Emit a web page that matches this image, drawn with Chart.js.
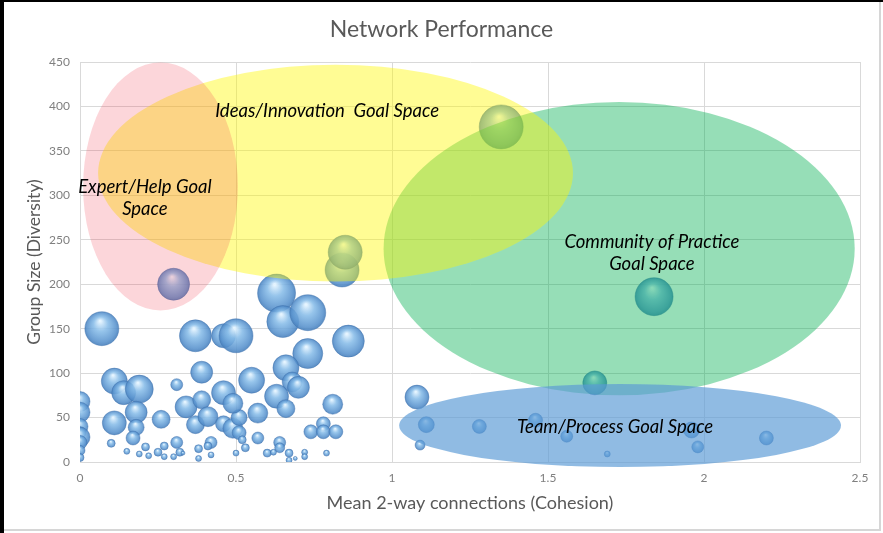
<!DOCTYPE html>
<html>
<head>
<meta charset="utf-8">
<script src="https://cdn.jsdelivr.net/npm/chart.js@4.4.1/dist/chart.umd.min.js"></script>
<style>
html,body{margin:0;padding:0;background:#fff;}
#wrap{position:relative;width:883px;height:533px;overflow:hidden;background:#fff;}
#c{position:absolute;left:0;top:0;}
.edgeL{position:absolute;left:0;top:0;width:4px;height:533px;background:#000;}
.edgeT{position:absolute;left:0;top:0;width:883px;height:2px;background:#000;}
.edgeR{position:absolute;left:879px;top:2px;width:2px;height:528px;background:#d6d6d6;}
.edgeB{position:absolute;left:4px;top:529px;width:877px;height:2px;background:#d6d6d6;}
</style>
</head>
<body>
<div id="wrap">
<canvas id="c" width="883" height="533"></canvas>
<div class="edgeL"></div><div class="edgeT"></div><div class="edgeR"></div><div class="edgeB"></div>
</div>
<script>
// ---- data ----
const cohesion = [
  0,0,0,0,0,0,0,0,
  0.30,0.07,0.37,0.11,0.14,0.19,0.31,0.34,0.18,0.26,0.11,0.18,0.37,0.17,0.31,0.10,0.15,0.21,0.27,0.19,0.22,0.25,0.27,0.32,0.30,0.33,0.38,0.38,
  0.39,0.39,0.41,0.46,0.50,0.46,0.49,0.51,0.51,0.46,0.49,0.55,0.57,0.63,0.65,0.73,0.86,0.73,0.66,0.68,0.70,0.63,0.66,0.81,0.84,0.85,
  0.57,0.64,0.64,0.52,0.53,0.42,0.41,0.42,0.50,0.60,0.62,0.67,0.67,0.69,0.72,0.72,0.79,0.74,0.78,0.78,0.82,
  1.08,1.11,1.09,
  1.35,1.84,1.65,1.28,1.46,1.56,1.69,1.96,1.98,2.20
];
const diversity = [
  68,56,40,33,28,22,13,5,
  200,150,142,91,78,82,87,62,56,48,44,39,42,27,22,21,12,17,18,9,7,11,6,11,6,10,15,4,
  101,70,51,142,142,43,38,50,33,78,66,92,55,190,158,168,136,122,106,90,84,74,60,65,216,236,
  27,22,16,25,16,22,18,8,10,10,11,10,2,4,11,6,10,34,43,34,34,
  73,42,19,
  377,186,89,40,47,29,9,36,17,27
];
const bubbleSize = [
  10,10,8,6,10,7,5,4,
  16,17,16,13,12,14,6,11,11,9,12,8,9,7,6,4,3,4,4,3,3,4,3,4,3,2,4,3,
  11,9,10,12,17,8,10,8,7,12,10,13,10,19,16,18,16,15,13,10,11,12,9,10,17,17,
  6,6,5,4,4,6,4,3,3,4,3,4,3,2,3,3,3,7,7,7,7,
  12,8,5,
  22,19,12,7,7,6,3,8,6,7
];
const xTickLabels = ['0','0.5','1','1.5','2','2.5'];
const yTickValues = [0,50,100,150,200,250,300,350,400,450];

// goal spaces (in data units)
const goalLabels  = [['Community of Practice','Goal Space'], ['Ideas/Innovation  Goal Space'], ['Expert/Help Goal','Space'], ['Team/Process Goal Space']];
const goalCenterX = [1.728, 0.819, 0.258, 1.731];
const goalCenterY = [240, 325, 310, 41];
const goalRadiusX = [0.755, 0.761, 0.248, 0.708];
const goalRadiusY = [165, 122, 139.5, 46.7];
const goalLabelX  = [1.833, 0.792, 0.208, 1.715];
const goalLabelY  = [235, 395, 297, 39.4];

// styles
const goalFill = ['rgba(0,176,80,0.41)','rgba(255,248,0,0.42)','rgba(240,50,70,0.2)','rgba(91,155,213,0.68)'];

const points = cohesion.map((x,i)=>({x:x, y:diversity[i], r:bubbleSize[i]}));

function bubbleFill(c){
  const chart = c.chart, raw = c.raw;
  if(!raw || !chart.chartArea) return 'rgba(91,155,213,0.85)';
  const px = chart.scales.x.getPixelForValue(raw.x);
  const py = chart.scales.y.getPixelForValue(raw.y);
  const r = raw.r;
  const g = chart.ctx.createRadialGradient(px - r*0.1, py - r*0.45, r*0.05, px, py, r);
  g.addColorStop(0,'rgba(228,244,255,0.95)');
  g.addColorStop(0.4,'rgba(135,188,232,0.88)');
  g.addColorStop(0.85,'rgba(88,146,205,0.88)');
  g.addColorStop(1,'rgba(72,128,188,0.9)');
  return g;
}

const goalPlugin = {
  id:'goals',
  afterDatasetsDraw(chart){
    const ctx = chart.ctx, xs = chart.scales.x, ys = chart.scales.y;
    ctx.save();
    for(let i=0;i<goalLabels.length;i++){
      const cx = xs.getPixelForValue(goalCenterX[i]);
      const cy = ys.getPixelForValue(goalCenterY[i]);
      const rx = Math.abs(xs.getPixelForValue(goalCenterX[i]+goalRadiusX[i]) - cx);
      const ry = Math.abs(ys.getPixelForValue(goalCenterY[i]+goalRadiusY[i]) - cy);
      ctx.beginPath();
      ctx.ellipse(cx, cy, rx, ry, 0, 0, Math.PI*2);
      ctx.fillStyle = goalFill[i];
      ctx.fill();
    }
    ctx.fillStyle = '#000';
    ctx.font = 'italic 18.5px Lato';
    ctx.textAlign = 'center';
    ctx.textBaseline = 'middle';
    for(let i=0;i<goalLabels.length;i++){
      const lx = xs.getPixelForValue(goalLabelX[i]);
      const ly = ys.getPixelForValue(goalLabelY[i]);
      const lines = goalLabels[i];
      const lh = 22;
      lines.forEach((t,j)=>{
        ctx.fillText(t, lx, ly + (j - (lines.length-1)/2)*lh);
      });
    }
    ctx.restore();
  }
};

new Chart(document.getElementById('c'), {
  type:'bubble',
  data:{datasets:[{
    data: points,
    backgroundColor: bubbleFill,
    borderColor:'rgba(65,115,175,0.55)',
    borderWidth:0.8
  }]},
  options:{
    responsive:false,
    animation:false,
    events:[],
    layout:{padding:{left:0,right:0,top:0,bottom:0}},
    plugins:{
      legend:{display:false},
      tooltip:{enabled:false},
      title:{display:true,text:'Network Performance',color:'#595959',
        font:{family:'Lato',size:23,weight:'normal'},padding:{top:16,bottom:18.4}}
    },
    scales:{
      x:{type:'linear',min:0,max:2.5,
        afterBuildTicks(s){ s.ticks = xTickLabels.map(v=>({value:parseFloat(v)})); },
        afterFit(s){ s.height = 71; },
        ticks:{color:'#7f7f7f',font:{family:'Lato',size:12},padding:9,
          callback:(v,i)=>xTickLabels[i]},
        grid:{color:'#d9d9d9',drawTicks:false,lineWidth:1},
        border:{color:'#d9d9d9'},
        title:{display:true,text:'Mean 2-way connections (Cohesion)',color:'#595959',
          font:{family:'Lato',size:18},padding:{top:0,bottom:19}}
      },
      y:{type:'linear',min:0,max:450,
        afterBuildTicks(s){ s.ticks = yTickValues.map(v=>({value:v})); },
        afterFit(s){ s.width = 80; },
        ticks:{color:'#7f7f7f',font:{family:'Lato',size:12},padding:10},
        grid:{color:'#d9d9d9',drawTicks:false,lineWidth:1},
        border:{color:'#d9d9d9'},
        title:{display:true,text:'Group Size (Diversity)',color:'#595959',
          font:{family:'Lato',size:17.5},padding:{top:24,bottom:0}}
      },
      yRight:{type:'linear',position:'right',min:0,max:450,
        afterFit(s){ s.width = 23; },
        ticks:{display:false},
        grid:{display:false,drawTicks:false},
        border:{display:false},
        title:{display:false}
      }
    }
  },
  plugins:[goalPlugin]
});
</script>
</body>
</html>
